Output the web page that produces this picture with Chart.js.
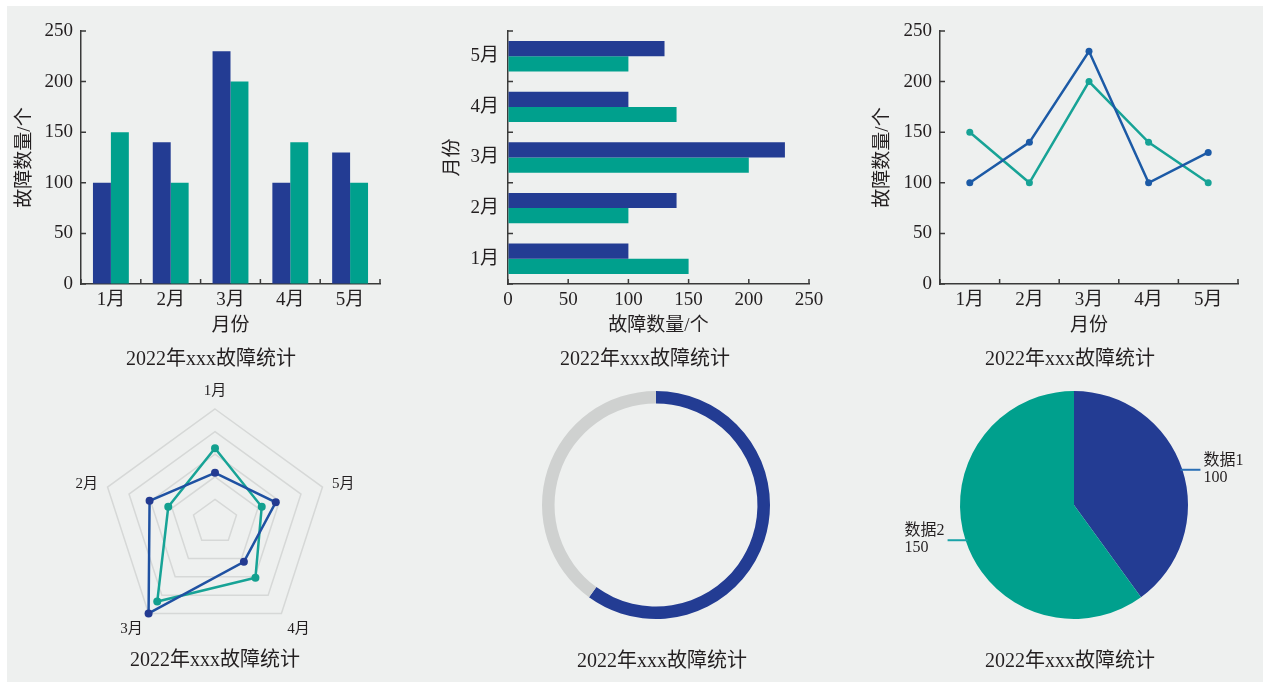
<!DOCTYPE html>
<html lang="zh">
<head>
<meta charset="utf-8">
<title>2022年xxx故障统计</title>
<script src="https://cdn.jsdelivr.net/npm/chart.js@4.4.1/dist/chart.umd.min.js"></script>
<style>
  html, body { margin: 0; padding: 0; background: #fff; }
  body { width: 1263px; height: 682px; position: relative; overflow: hidden;
         font-family: "Liberation Serif", "Noto Sans CJK SC", serif; color: #231f20; }
  #bg { position: absolute; left: 7px; top: 6px; right: 0; bottom: 0; background: #eef0ef; }
  .box { position: absolute; }
  .box canvas { display: block; }
  .cap { position: absolute; font-size: 20px; line-height: 24px; white-space: nowrap;
         transform: translate(-50%, -50%); }
</style>
</head>
<body>
<div id="bg"></div>

<div class="box" style="left:0;top:0;width:420px;height:380px"><canvas id="barV"></canvas></div>
<div class="box" style="left:420px;top:0;width:420px;height:380px"><canvas id="barH"></canvas></div>
<div class="box" style="left:840px;top:0;width:423px;height:380px"><canvas id="lines"></canvas></div>
<div class="box" style="left:0;top:380px;width:420px;height:302px"><canvas id="radar"></canvas></div>
<div class="box" style="left:420px;top:380px;width:420px;height:302px"><canvas id="ring"></canvas></div>
<div class="box" style="left:840px;top:380px;width:423px;height:302px"><canvas id="pie"></canvas></div>

<div class="cap" style="left:211px;top:358px">2022年xxx故障统计</div>
<div class="cap" style="left:645px;top:358px">2022年xxx故障统计</div>
<div class="cap" style="left:1070px;top:358px">2022年xxx故障统计</div>
<div class="cap" style="left:215px;top:659px">2022年xxx故障统计</div>
<div class="cap" style="left:662px;top:660px">2022年xxx故障统计</div>
<div class="cap" style="left:1070px;top:660px">2022年xxx故障统计</div>

<script>
// data
const months = ['1月', '2月', '3月', '4月', '5月'];
const faultsA = [100, 140, 230, 100, 130];
const faultsB = [150, 100, 200, 140, 100];
const radarOrder = [0, 4, 3, 2, 1];   // clockwise from top: 1月, 5月, 4月, 3月, 2月
const ringValues = [150, 100];
const pieNames = ['数据1', '数据2'];
const pieValues = [100, 150];
const valueTitle = '故障数量/个';
const monthTitle = '月份';

// colours
const navy = '#233c93';
const teal = '#00a08d';
const lineBlue = '#1c5aa6';
const lineTeal = '#17a396';
const ringGray = '#cfd1d0';
const ink = '#231f20';
const axisInk = '#3a3a3a';
const family = '"Liberation Serif", "Noto Sans CJK SC", serif';

Chart.defaults.font.family = family;
Chart.defaults.font.size = 19;
Chart.defaults.color = ink;
Chart.defaults.animation = false;
Chart.defaults.responsive = true;
Chart.defaults.maintainAspectRatio = false;
Chart.defaults.plugins.legend.display = false;
Chart.defaults.plugins.tooltip.enabled = false;

// small tick marks pointing into the plot, like the printed figure
const inwardTicks = {
  id: 'inwardTicks',
  afterDraw(chart) {
    const ctx = chart.ctx;
    const area = chart.chartArea;
    ctx.save();
    ctx.strokeStyle = axisInk;
    ctx.lineWidth = 1.5;
    Object.values(chart.scales).forEach(scale => {
      let pixels = [];
      if (scale.type === 'category') {
        for (let i = 0; i <= scale.getLabels().length; i++) pixels.push(scale.getPixelForValue(i - 0.5));
      } else {
        pixels = scale.ticks.map(t => scale.getPixelForValue(t.value));
      }
      ctx.beginPath();
      pixels.forEach(p => {
        if (scale.isHorizontal()) {
          ctx.moveTo(p, area.bottom);
          ctx.lineTo(p, area.bottom - 5);
        } else {
          ctx.moveTo(area.left, p);
          ctx.lineTo(area.left + 5, p);
        }
      });
      ctx.stroke();
    });
    ctx.restore();
  }
};

function axis(extra) {
  return Object.assign({
    grid: { display: true, drawOnChartArea: false, drawTicks: false },
    border: { display: true, color: axisInk, width: 1.5 }
  }, extra);
}

// 1. grouped columns
new Chart(document.getElementById('barV'), {
  type: 'bar',
  data: {
    labels: months,
    datasets: [
      { data: faultsA, backgroundColor: navy },
      { data: faultsB, backgroundColor: teal }
    ]
  },
  options: {
    layout: { padding: { left: 10, top: 31, right: 40, bottom: 38.6 } },
    datasets: { bar: { categoryPercentage: 0.6, barPercentage: 1 } },
    scales: {
      x: axis({
        ticks: { padding: 5 },
        title: { display: true, text: monthTitle, padding: { top: 4, bottom: 4 } },
        afterFit: s => { s.height = 57.4; }
      }),
      y: axis({
        min: 0, max: 250,
        ticks: { stepSize: 50, padding: 8 },
        title: { display: true, text: valueTitle, padding: { top: 4, bottom: 4 } },
        afterFit: s => { s.width = 71; }
      })
    }
  },
  plugins: [inwardTicks]
});

// 2. grouped horizontal bars
new Chart(document.getElementById('barH'), {
  type: 'bar',
  data: {
    labels: months,
    datasets: [
      { data: faultsA, backgroundColor: navy },
      { data: faultsB, backgroundColor: teal }
    ]
  },
  options: {
    indexAxis: 'y',
    layout: { padding: { left: 18, top: 31, right: 31, bottom: 38.6 } },
    datasets: { bar: { categoryPercentage: 0.6, barPercentage: 1 } },
    scales: {
      x: axis({
        min: 0, max: 250,
        ticks: { stepSize: 50, padding: 5 },
        title: { display: true, text: valueTitle, padding: { top: 4, bottom: 4 } },
        afterFit: s => { s.height = 57.4; }
      }),
      y: axis({
        reverse: true,
        ticks: { padding: 9 },
        title: { display: true, text: monthTitle, padding: { top: 4, bottom: 4 } },
        afterFit: s => { s.width = 70; }
      })
    }
  },
  plugins: [inwardTicks]
});

// 3. lines
new Chart(document.getElementById('lines'), {
  type: 'line',
  data: {
    labels: months,
    datasets: [
      { data: faultsA, borderColor: lineBlue, backgroundColor: lineBlue, pointBackgroundColor: lineBlue },
      { data: faultsB, borderColor: lineTeal, backgroundColor: lineTeal, pointBackgroundColor: lineTeal }
    ]
  },
  options: {
    layout: { padding: { left: 28, top: 31, right: 25, bottom: 38.6 } },
    datasets: { line: { borderWidth: 2.5, pointRadius: 3.5, pointBorderWidth: 0, tension: 0 } },
    scales: {
      x: axis({
        offset: true,
        ticks: { padding: 5 },
        title: { display: true, text: monthTitle, padding: { top: 4, bottom: 4 } },
        afterFit: s => { s.height = 57.4; }
      }),
      y: axis({
        min: 0, max: 250,
        ticks: { stepSize: 50, padding: 8 },
        title: { display: true, text: valueTitle, padding: { top: 4, bottom: 4 } },
        afterFit: s => { s.width = 72; }
      })
    }
  },
  plugins: [inwardTicks]
});

// 4. radar
const radarLabels = {
  id: 'radarLabels',
  afterDraw(chart) {
    const r = chart.scales.r;
    const ctx = chart.ctx;
    ctx.save();
    ctx.font = '15px ' + family;
    ctx.fillStyle = ink;
    chart.data.labels.forEach((lab, i) => {
      const p = r.getPointPosition(i, r.drawingArea + 10);
      const ang = r.getIndexAngle(i);
      const dx = Math.sin(ang), dy = -Math.cos(ang);
      ctx.textAlign = Math.abs(dx) < 0.05 ? 'center' : (dx > 0 ? 'left' : 'right');
      ctx.textBaseline = Math.abs(dy) < 0.35 ? 'middle' : (dy < 0 ? 'bottom' : 'top');
      ctx.fillText(lab, p.x, p.y);
    });
    ctx.restore();
  }
};

new Chart(document.getElementById('radar'), {
  type: 'radar',
  data: {
    labels: radarOrder.map(i => months[i]),
    datasets: [
      { data: radarOrder.map(i => faultsA[i]), borderColor: '#1f51a2', pointBackgroundColor: '#233a91', pointBorderColor: '#233a91' },
      { data: radarOrder.map(i => faultsB[i]), borderColor: lineTeal, pointBackgroundColor: '#13a08f', pointBorderColor: '#13a08f' }
    ]
  },
  options: {
    layout: { padding: { left: 102, right: 92, top: 29, bottom: 47 } },
    datasets: { radar: { borderWidth: 2.5, pointRadius: 4, pointBorderWidth: 0, fill: false } },
    scales: {
      r: {
        min: 0, max: 230,
        ticks: { display: false, count: 6 },
        angleLines: { display: false },
        grid: { color: '#d6d8d7', lineWidth: 1.5 },
        pointLabels: { display: false }
      }
    }
  },
  plugins: [radarLabels]
});

// 5. ring
new Chart(document.getElementById('ring'), {
  type: 'doughnut',
  data: {
    labels: ['A', 'B'],
    datasets: [{ data: ringValues, backgroundColor: [navy, ringGray], borderWidth: 0, hoverOffset: 0 }]
  },
  options: {
    cutout: '89%',
    layout: { padding: { left: 122, right: 70, top: 11, bottom: 63 } }
  }
});

// 6. pie with callouts
const pieCallouts = {
  id: 'pieCallouts',
  afterDatasetsDraw(chart) {
    const ctx = chart.ctx;
    const meta = chart.getDatasetMeta(0);
    const values = chart.data.datasets[0].data;
    const leaderColors = ['#2a6fb5', '#1aa3a8'];
    ctx.save();
    ctx.font = '16px ' + family;
    meta.data.forEach((arc, i) => {
      const { x, y, startAngle, endAngle, outerRadius } =
        arc.getProps(['x', 'y', 'startAngle', 'endAngle', 'outerRadius'], true);
      const mid = (startAngle + endAngle) / 2;
      const px = x + Math.cos(mid) * outerRadius;
      const py = y + Math.sin(mid) * outerRadius;
      const dir = Math.cos(mid) >= 0 ? 1 : -1;
      const ex = px + dir * 18;
      ctx.strokeStyle = leaderColors[i];
      ctx.lineWidth = 2;
      ctx.beginPath();
      ctx.moveTo(px - dir * 2, py);
      ctx.lineTo(ex, py);
      ctx.stroke();
      const lines = [chart.data.labels[i], String(values[i])];
      const w = Math.max(...lines.map(t => ctx.measureText(t).width));
      const tx = dir > 0 ? ex + 3 : ex - 3 - w;
      ctx.fillStyle = ink;
      ctx.textAlign = 'left';
      ctx.textBaseline = 'middle';
      ctx.fillText(lines[0], tx, py - 9);
      ctx.fillText(lines[1], tx, py + 8);
    });
    ctx.restore();
  }
};

new Chart(document.getElementById('pie'), {
  type: 'pie',
  data: {
    labels: pieNames,
    datasets: [{ data: pieValues, backgroundColor: [navy, teal], borderWidth: 0, hoverOffset: 0 }]
  },
  options: {
    layout: { padding: { left: 120, right: 75, top: 11, bottom: 63 } }
  },
  plugins: [pieCallouts]
});
</script>
</body>
</html>
